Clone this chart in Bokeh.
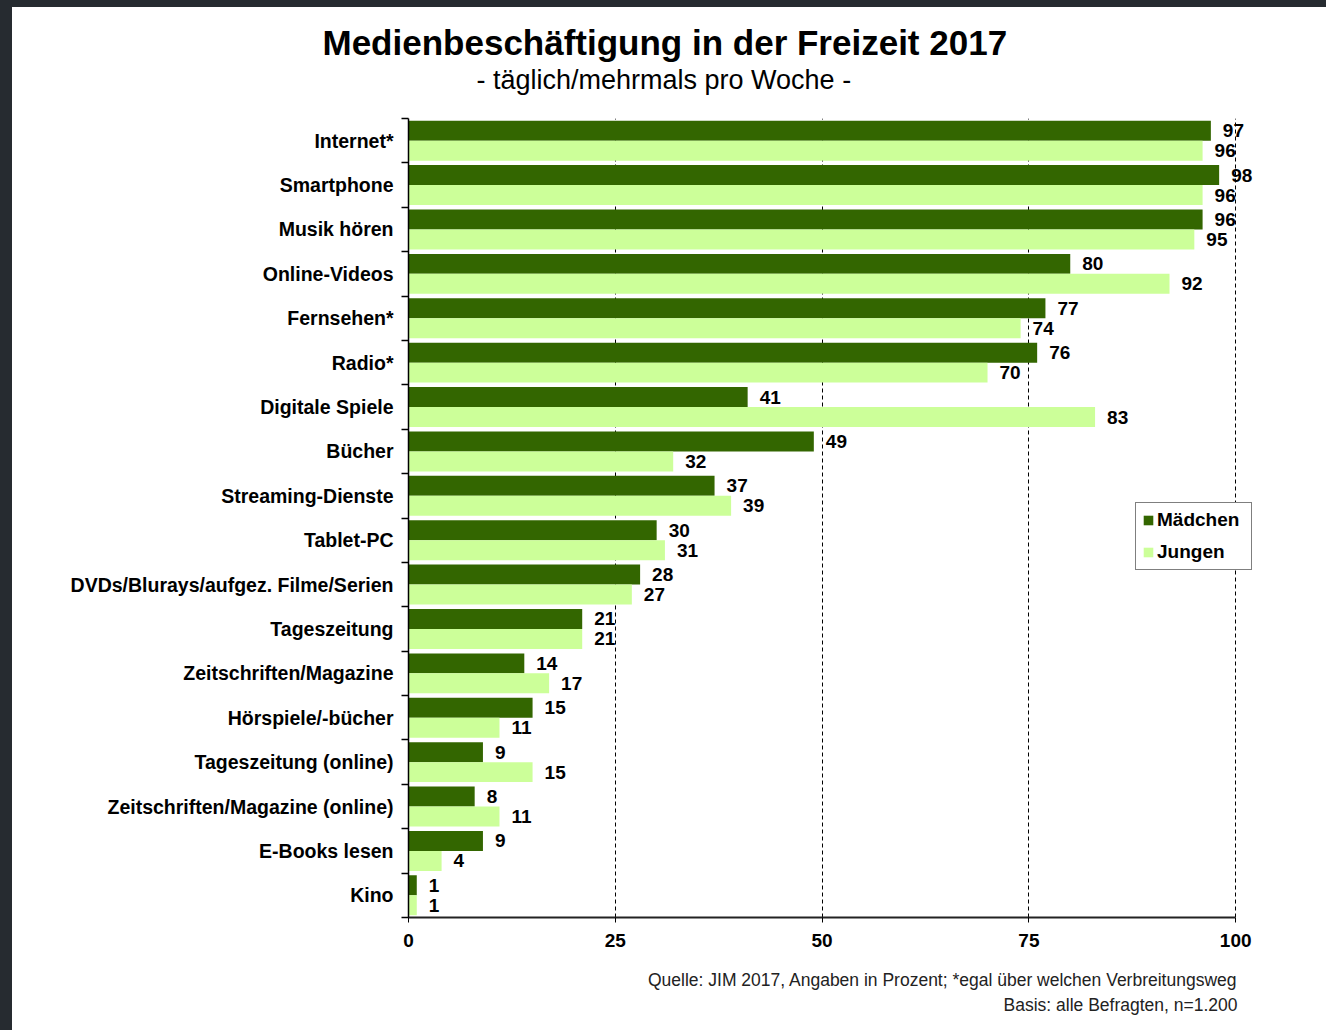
from bokeh.plotting import figure
from bokeh.models import Range1d, FixedTicker, Title, Spacer
from bokeh.layouts import column, row
from bokeh.core.properties import value
from bokeh.embed import file_html
from bokeh.resources import INLINE

categories = ["Internet*", "Smartphone", "Musik hören", "Online-Videos", "Fernsehen*",
              "Radio*", "Digitale Spiele", "Bücher", "Streaming-Dienste", "Tablet-PC",
              "DVDs/Blurays/aufgez. Filme/Serien", "Tageszeitung", "Zeitschriften/Magazine",
              "Hörspiele/-bücher", "Tageszeitung (online)", "Zeitschriften/Magazine (online)",
              "E-Books lesen", "Kino"]
maedchen = [97, 98, 96, 80, 77, 76, 41, 49, 37, 30, 28, 21, 14, 15, 9, 8, 9, 1]
jungen = [96, 96, 95, 92, 74, 70, 83, 32, 39, 31, 27, 21, 17, 11, 15, 11, 4, 1]
x_ticks = [0, 25, 50, 75, 100]

title_text = "Medienbeschäftigung in der Freizeit 2017"
subtitle_text = "- täglich/mehrmals pro Woche -"
source_text = "Quelle: JIM 2017, Angaben in Prozent; *egal über welchen Verbreitungsweg"
basis_text = "Basis: alle Befragten, n=1.200"

DARK = "#336600"
LIGHT = "#CCFF99"
FONT = "Liberation Sans"
FRAME_BG = "#262b30"

n = len(categories)
centers = [n - i - 0.5 for i in range(n)]
y_dark = [c + 0.225 for c in centers]
y_light = [c - 0.225 for c in centers]

p = figure(width=1314, height=1023, output_backend="svg", toolbar_location=None,
           x_range=Range1d(0, 103), y_range=Range1d(0, n),
           min_border_left=396, min_border_right=66, min_border_top=111,
           min_border_bottom=113)
p.outline_line_color = None
p.background_fill_color = "white"
p.border_fill_color = "white"

p.hbar(y=y_dark, right=maedchen, left=0, height=0.45, color=DARK, line_color=None,
       legend_label="Mädchen")
p.hbar(y=y_light, right=jungen, left=0, height=0.45, color=LIGHT, line_color=None,
       legend_label="Jungen")

p.text(x=maedchen, y=y_dark, text=[str(v) for v in maedchen], x_offset=12,
       text_align="left", text_baseline="middle", text_font=value(FONT),
       text_font_style="bold", text_font_size="19px", text_color="black")
p.text(x=jungen, y=y_light, text=[str(v) for v in jungen], x_offset=12,
       text_align="left", text_baseline="middle", text_font=value(FONT),
       text_font_style="bold", text_font_size="19px", text_color="black")

# x axis
xa = p.xaxis[0]
xa.ticker = FixedTicker(ticks=x_ticks)
xa.bounds = (0, 100)
xa.axis_line_color = "#222222"
xa.axis_line_width = 2
xa.major_tick_out = 5
xa.major_tick_in = 0
xa.major_tick_line_color = "black"
xa.minor_tick_line_color = None
xa.major_label_standoff = 11
xa.major_label_text_font = FONT
xa.major_label_text_font_style = "bold"
xa.major_label_text_font_size = "19px"
xa.major_label_text_color = "black"
xa.axis_label = " "
xa.axis_label_text_font_size = "10.5px"
xa.axis_label_standoff = 0

# y axis
ya = p.yaxis[0]
ya.ticker = FixedTicker(ticks=centers, minor_ticks=list(range(n + 1)))
ya.major_label_overrides = {c: lab for c, lab in zip(centers, categories)}
ya.major_tick_line_color = None
ya.major_tick_out = 0
ya.major_tick_in = 0
ya.minor_tick_out = 7
ya.minor_tick_in = 0
ya.minor_tick_line_color = "black"
ya.minor_tick_line_width = 1.5
ya.axis_line_color = "black"
ya.axis_line_width = 1.5
ya.major_label_standoff = 8
ya.major_label_text_font = FONT
ya.major_label_text_font_style = "bold"
ya.major_label_text_font_size = "19.5px"
ya.major_label_text_color = "black"

p.xgrid.ticker = FixedTicker(ticks=x_ticks[1:])
p.xgrid.grid_line_color = "black"
p.xgrid.grid_line_width = 1
p.xgrid.grid_line_dash = "4 3"
p.ygrid.grid_line_color = None

leg = p.legend[0]
leg.location = (727, 347)
leg.border_line_color = "black"
leg.border_line_width = 1.5
leg.background_fill_color = "white"
leg.background_fill_alpha = 1
leg.label_text_font = FONT
leg.label_text_font_style = "bold"
leg.label_text_font_size = "19px"
leg.label_text_color = "black"
leg.glyph_width = 12
leg.glyph_height = 12
leg.label_standoff = 3
leg.label_width = 88
leg.padding = 6
leg.spacing = 10
leg.margin = 0
leg.label_height = 20

# titles: p.title is outermost; the first added "above" title sits next to the frame
p.title.text = title_text
p.title.align = "left"
p.title.offset = -86
p.title.text_font = FONT
p.title.text_font_style = "bold"
p.title.text_font_size = "35px"
p.title.text_color = "black"
p.title.standoff = 1
# blank gap between subtitle and plot frame
p.add_layout(Title(text=" ", align="left", text_font=FONT, text_font_size="10px",
                   standoff=11), "above")
p.add_layout(Title(text=subtitle_text, align="left", offset=68, text_font=FONT,
                   text_font_style="normal", text_font_size="27px", text_color="black",
                   standoff=0), "above")

p.add_layout(Title(text=source_text, align="right", offset=23, text_font=FONT,
                   text_font_style="normal", text_font_size="17.5px",
                   text_color="#222222", standoff=6), "below")
p.add_layout(Title(text=basis_text, align="right", offset=23, text_font=FONT,
                   text_font_style="normal", text_font_size="17.5px",
                   text_color="#222222", standoff=0), "below")

top_strip = Spacer(width=1326, height=7, styles={"background-color": FRAME_BG})
left_strip = Spacer(width=12, height=1023, styles={"background-color": FRAME_BG})
layout = column(top_strip, row(left_strip, p, spacing=0), spacing=0)

open("out.html", "w").write(file_html(layout, INLINE))
